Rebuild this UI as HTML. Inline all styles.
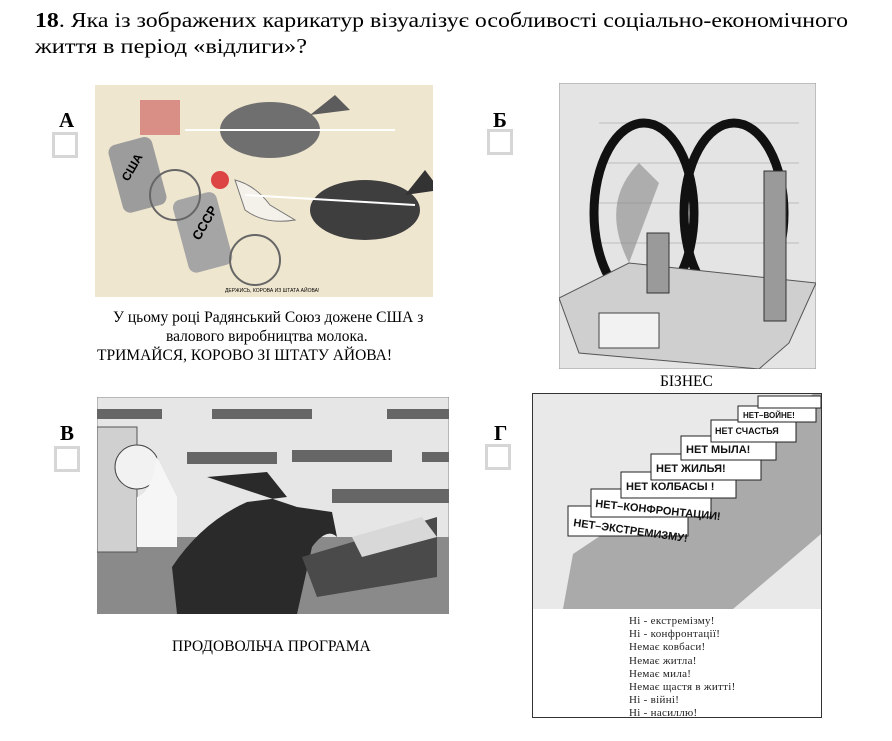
<!DOCTYPE html>
<html><head><meta charset="utf-8"><style>
body{margin:0;width:892px;height:741px;background:#fff;position:relative;overflow:hidden;font-family:"Liberation Serif",serif;color:#000}
.a{position:absolute}
.lbl{font-size:21px;font-weight:bold}
.cb{width:20px;height:20px;border:3px solid #d6d6d6;background:#fff}
.cap{font-size:15.5px;white-space:nowrap}
</style></head><body>
<svg class="a" style="left:0;top:0" width="892" height="62">
<text x="35" y="27" font-family="Liberation Serif, serif" font-size="21" textLength="813" lengthAdjust="spacingAndGlyphs"><tspan font-weight="bold">18</tspan>. Яка із зображених карикатур візуалізує особливості соціально-економічного</text>
<text x="35" y="53" font-family="Liberation Serif, serif" font-size="21" textLength="272" lengthAdjust="spacingAndGlyphs">життя в період «відлиги»?</text>
</svg>

<div class="a lbl" style="left:59px;top:108px">А</div><div class="a cb" style="left:52px;top:132px"></div>
<div class="a lbl" style="left:493px;top:108px">Б</div><div class="a cb" style="left:487px;top:129px"></div>
<div class="a lbl" style="left:60px;top:421px">В</div><div class="a cb" style="left:54px;top:446px"></div>
<div class="a lbl" style="left:494px;top:421px">Г</div><div class="a cb" style="left:485px;top:444px"></div>

<!-- A -->
<svg class="a" style="left:95px;top:85px" width="338" height="212">
<rect width="338" height="212" fill="#efe6cf"/>
<ellipse cx="175" cy="45" rx="50" ry="28" fill="#6f6f6f"/>
<path d="M215 30 L240 10 L255 25 Z" fill="#5c5c5c"/>
<ellipse cx="270" cy="125" rx="55" ry="30" fill="#3e3e3e"/>
<path d="M310 110 L330 85 L345 105 Z" fill="#333"/>
<rect x="20" y="55" width="45" height="70" rx="8" fill="#9c9c9c" transform="rotate(-15 42 90)"/>
<rect x="85" y="110" width="45" height="75" rx="8" fill="#a5a5a5" transform="rotate(-15 107 147)"/>
<text x="28" y="92" font-size="12" font-weight="bold" font-family="Liberation Sans" transform="rotate(-60 35 90)">США</text>
<text x="95" y="150" font-size="13" font-weight="bold" font-family="Liberation Sans" transform="rotate(-60 105 145)">СССР</text>
<rect x="45" y="15" width="40" height="35" fill="#c55" opacity=".6"/>
<circle cx="80" cy="110" r="25" fill="none" stroke="#666" stroke-width="2"/>
<circle cx="160" cy="175" r="25" fill="none" stroke="#666" stroke-width="2"/>
<path d="M140 95 Q160 100 175 120 L200 135 Q170 140 150 125 Z" fill="#f4f0ea" stroke="#777"/>
<circle cx="125" cy="95" r="9" fill="#d44"/>
<line x1="90" y1="45" x2="300" y2="45" stroke="#fff" stroke-width="2"/>
<line x1="150" y1="110" x2="320" y2="120" stroke="#fff" stroke-width="2"/>
<text x="130" y="207" font-size="5" font-family="Liberation Sans">ДЕРЖИСЬ, КОРОВА ИЗ ШТАТА АЙОВА!</text>
</svg>
<div class="a cap" style="left:113px;top:309px">У цьому році Радянський Союз дожене США з</div>
<div class="a cap" style="left:166px;top:328px">валового виробництва молока.</div>
<div class="a cap" style="left:97px;top:347px">ТРИМАЙСЯ, КОРОВО ЗІ ШТАТУ АЙОВА!</div>

<!-- Б -->
<svg class="a" style="left:559px;top:83px" width="257" height="286">
<rect width="257" height="286" fill="#e4e4e4" stroke="#999"/>
<g stroke="#bbb" stroke-width="1">
<line x1="40" y1="40" x2="240" y2="40"/><line x1="40" y1="80" x2="240" y2="80"/><line x1="40" y1="120" x2="240" y2="120"/><line x1="40" y1="160" x2="240" y2="160"/><line x1="40" y1="200" x2="240" y2="200"/></g>
<ellipse cx="85" cy="130" rx="50" ry="90" fill="none" stroke="#111" stroke-width="9"/>
<ellipse cx="175" cy="130" rx="50" ry="90" fill="none" stroke="#111" stroke-width="9"/>
<path d="M70 180 Q40 120 80 80 L100 100 Z" fill="#888" opacity=".6"/>
<path d="M0 215 L70 180 L257 200 L230 260 L200 286 L20 270 Z" fill="#cfcfcf" stroke="#555"/>
<rect x="205" y="88" width="22" height="150" fill="#9a9a9a" stroke="#333"/>
<rect x="88" y="150" width="22" height="60" fill="#9a9a9a" stroke="#333"/>
<rect x="40" y="230" width="60" height="35" fill="#f2f2f2" stroke="#444"/>
</svg>
<div class="a cap" style="left:660px;top:373px">БІЗНЕС</div>

<!-- В -->
<svg class="a" style="left:97px;top:397px" width="352" height="217">
<rect width="352" height="217" fill="#e6e6e6" stroke="#888"/>
<g fill="#666"><rect x="0" y="12" width="65" height="10"/><rect x="115" y="12" width="100" height="10"/><rect x="290" y="12" width="62" height="10"/><rect x="195" y="53" width="100" height="12"/><rect x="325" y="55" width="27" height="10"/><rect x="235" y="92" width="125" height="14"/><rect x="90" y="55" width="90" height="12"/></g>
<rect x="0" y="140" width="352" height="77" fill="#8a8a8a"/>
<rect x="0" y="30" width="40" height="125" fill="#d0d0d0" stroke="#555"/>
<ellipse cx="40" cy="70" rx="22" ry="22" fill="#f2f2f2" stroke="#444"/>
<path d="M40 100 Q55 95 60 60 Q70 80 80 100 L80 150 L40 150 Z" fill="#f6f6f6"/>
<path d="M110 80 L170 75 L190 100 L150 105 Q105 125 75 170 L80 217 L200 217 L215 150 Q230 130 240 140 L235 115 L200 110 Z" fill="#2a2a2a"/>
<path d="M205 160 L340 120 L340 180 L220 200 Z" fill="#4a4a4a"/>
<path d="M255 140 L325 120 L340 140 L265 160 Z" fill="#d8d8d8"/>
</svg>
<div class="a cap" style="left:172px;top:638px">ПРОДОВОЛЬЧА ПРОГРАМА</div>

<!-- Г -->
<div class="a" style="left:532px;top:393px;width:288px;height:323px;border:1px solid #333;background:#fff">
<svg width="288" height="215" style="display:block">
<rect width="288" height="215" fill="#e9e9e9"/>
<path d="M30 215 L40 160 L280 0 L288 0 L288 140 L200 215 Z" fill="#9a9a9a" opacity=".8"/>
<g font-family="Liberation Sans" font-weight="bold" font-size="11" fill="#111">
<g fill="#fff" stroke="#222"><rect x="35" y="112" width="120" height="30"/><rect x="58" y="95" width="120" height="28"/><rect x="88" y="78" width="115" height="26"/><rect x="118" y="60" width="110" height="26"/><rect x="148" y="42" width="95" height="24"/><rect x="178" y="26" width="85" height="22"/><rect x="205" y="12" width="78" height="16"/><rect x="225" y="2" width="63" height="12"/></g>
<text x="40" y="132" transform="rotate(8 40 132)">НЕТ–ЭКСТРЕМИЗМУ!</text>
<text x="62" y="113" transform="rotate(6 62 113)">НЕТ–КОНФРОНТАЦИИ!</text>
<text x="93" y="96">НЕТ КОЛБАСЫ !</text>
<text x="123" y="78">НЕТ ЖИЛЬЯ!</text>
<text x="153" y="59">НЕТ МЫЛА!</text>
<text x="182" y="40" font-size="9">НЕТ СЧАСТЬЯ</text>
<text x="210" y="24" font-size="8">НЕТ–ВОЙНЕ!</text>
</g></svg>
<div style="position:absolute;left:96px;top:221px;font-size:11px;line-height:13.2px;color:#222;letter-spacing:.3px">Ні - екстремізму!<br>Ні - конфронтації!<br>Немає ковбаси!<br>Немає житла!<br>Немає мила!<br>Немає щастя в житті!<br>Ні - війні!<br>Ні - насиллю!</div>
</div>
</body></html>
